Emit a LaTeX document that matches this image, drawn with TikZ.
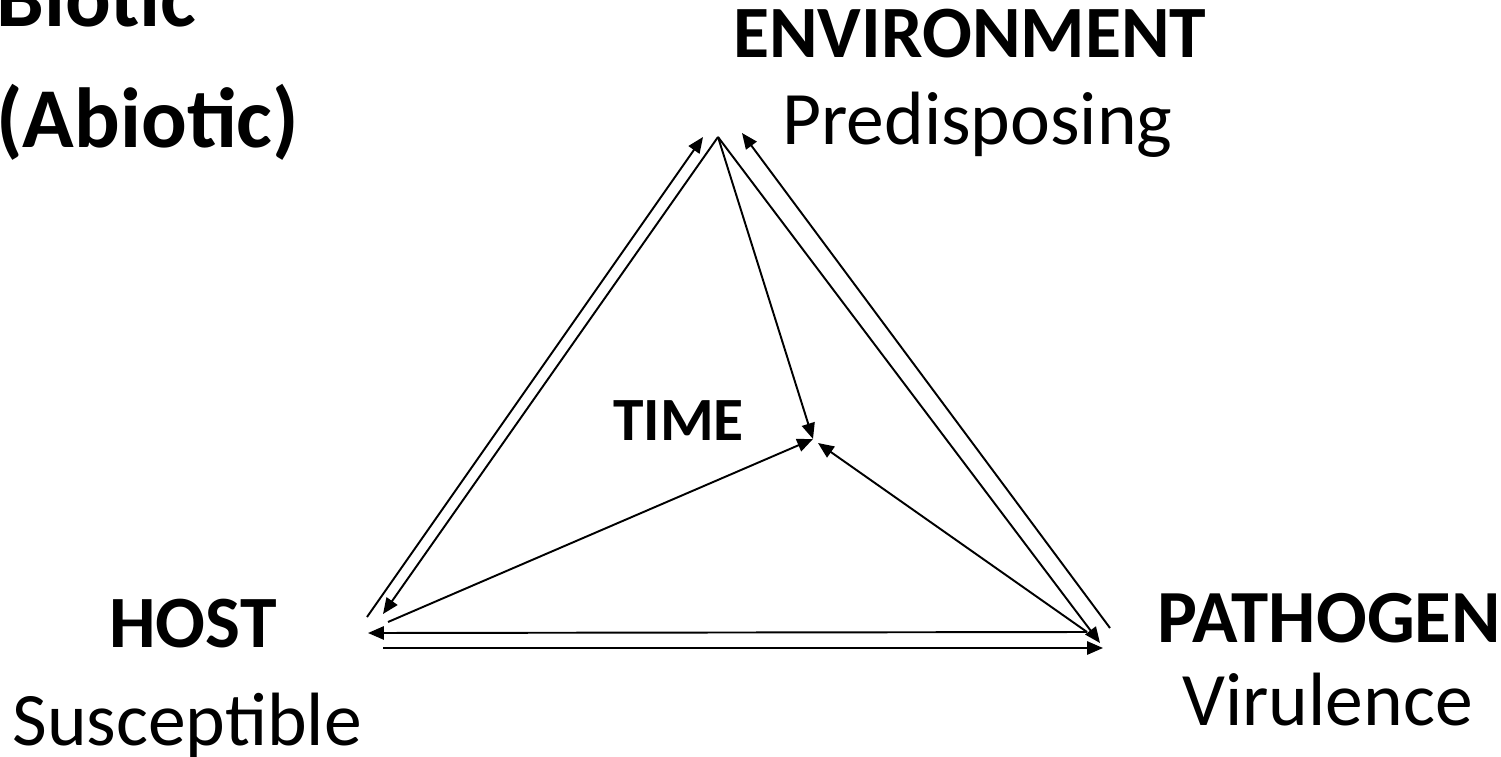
\documentclass[tikz,border=0pt]{standalone}
\usepackage{fontspec}
\setmainfont{Carlito}
\usetikzlibrary{arrows.meta}

\begin{document}
\begin{tikzpicture}[x=0.02cm,y=-0.02cm,>={Triangle[length=9pt,width=7.5pt]},
  lbl/.style={inner sep=0pt,anchor=base west},
  head/.style={lbl,font=\bfseries\fontsize{42pt}{48pt}\selectfont},
  sub/.style={lbl,font=\fontsize{43pt}{50pt}\selectfont},
  link/.style={line width=1.1pt,->}]
\useasboundingbox (0,0) rectangle (1501,757);
% labels
\node[lbl,font=\bfseries\fontsize{48.5pt}{56pt}\selectfont] (biotic) at (-4,27) {Biotic};
\node[lbl,font=\bfseries\fontsize{48.5pt}{56pt}\selectfont] (abiotic) at (-4,148) {(Abiotic)};
\node[head] (env) at (733,58) {ENVIRONMENT};
\node[sub] (envsub) at (782,145) {Predisposing};
\node[head,font=\bfseries\fontsize{35pt}{40pt}\selectfont] (time) at (613,440) {TIME};
\node[head] (host) at (109,647) {HOST};
\node[sub] (hostsub) at (12,745) {Susceptible};
\node[head,font=\bfseries\fontsize{42.7pt}{48pt}\selectfont] (path) at (1157,642) {PATHOGEN};
\node[sub] (pathsub) at (1182,725) {Virulence};
% end points
\coordinate (apex) at (718,137);
\coordinate (apexL) at (703,137);
\coordinate (apexR) at (742,133);
\coordinate (centre) at (813,439);
\coordinate (centreR) at (818,443);
\coordinate (hostA) at (367,617);
\coordinate (hostB) at (383,614);
\coordinate (hostC) at (388,622);
\coordinate (hostD) at (368,633);
\coordinate (hostE) at (383,648);
\coordinate (pathA) at (1110,628);
\coordinate (pathB) at (1100,643);
\coordinate (pathC) at (1087,632);
\coordinate (pathD) at (1103,648);
% connectors
\draw[link] (hostA)--(apexL);
\draw[link] (apex)--(hostB);
\draw[link] (apex)--(centre);
\draw[link] (apex)--(pathB);
\draw[link] (pathA)--(apexR);
\draw[link] (pathC)--(centreR);
\draw[link] (hostC)--(centre);
\draw[link] (pathC)--(hostD);
\draw[link] (hostE)--(pathD);
\end{tikzpicture}
\end{document}
